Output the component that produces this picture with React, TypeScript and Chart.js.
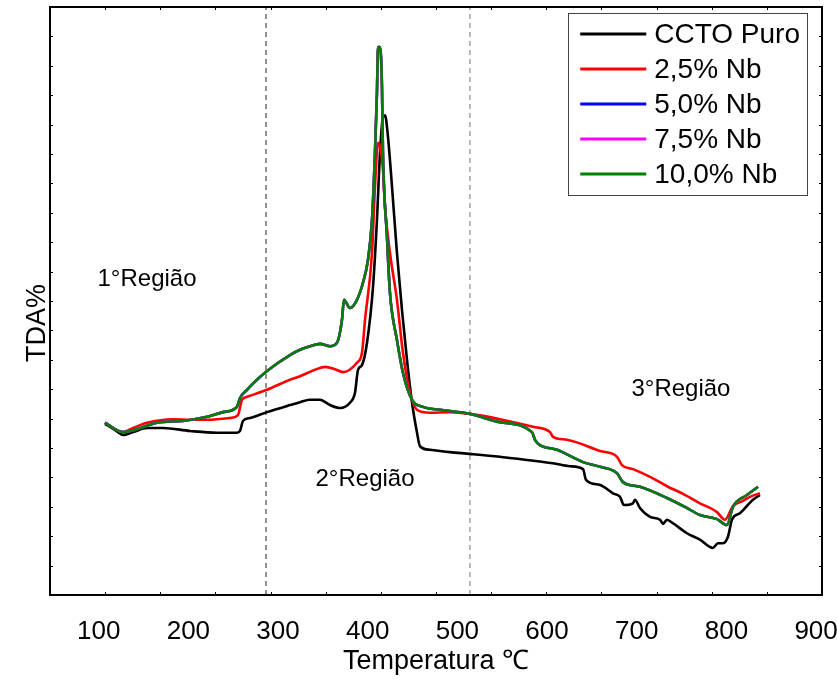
import React, { useEffect, useRef } from "react";
import { Chart, registerables } from "chart.js";

Chart.register(...registerables);

const FONT = '"Liberation Sans", Arial, Helvetica, sans-serif';

// ---- Series (temperature °C, TDA in arbitrary units 0..100) ----
const SERIES_NAMES = ["CCTO Puro", "2,5% Nb", "5,0% Nb", "7,5% Nb", "10,0% Nb"];
const SERIES_COLORS = ["#000000", "#ff0000", "#0000ff", "#ff00ff", "#008000"];

const CCTO_T = [107.0, 112.6, 121.5, 127.1, 138.3, 153.9, 171.7, 201.8, 231.9, 254.2, 257.6, 260.9, 268.7, 287.7, 313.3, 324.5, 335.6, 346.8, 357.9, 369.1, 380.2, 385.8, 389.2, 393.6, 399.2, 405.9, 410.3, 413.7, 417.0, 419.3, 422.6, 427.1, 432.6, 438.2, 443.8, 449.4, 455.0, 458.3, 469.4, 491.7, 514.0, 547.5, 606.6, 625.6, 640.1, 643.4, 659.0, 673.5, 681.3, 685.8, 695.8, 698.0, 703.6, 714.8, 725.9, 729.3, 733.7, 740.4, 756.0, 770.5, 785.0, 790.6, 796.2, 801.7, 806.2, 815.1, 829.6, 837.4];
const CCTO_V = [29.1, 28.6, 27.7, 27.2, 27.7, 28.4, 28.4, 27.9, 27.6, 27.6, 27.9, 29.6, 30.1, 31.1, 32.3, 32.8, 33.2, 33.2, 32.3, 31.8, 32.7, 34.4, 38.3, 39.1, 42.9, 52.4, 63.8, 75.2, 81.3, 81.6, 77.9, 69.4, 58.2, 48.5, 40.0, 32.7, 27.6, 25.3, 24.7, 24.3, 24.0, 23.5, 22.4, 21.9, 21.4, 19.6, 18.7, 17.3, 16.7, 15.3, 15.6, 16.2, 14.8, 13.3, 12.8, 12.1, 12.8, 12.2, 10.5, 9.4, 8.0, 8.8, 8.8, 9.9, 12.8, 13.9, 16.2, 17.0];

const NB25_T = [107.0, 116.0, 127.1, 138.3, 153.9, 182.9, 201.8, 220.8, 246.4, 255.3, 259.8, 265.4, 287.7, 313.3, 324.5, 341.2, 352.4, 363.5, 372.4, 388.0, 393.6, 397.0, 404.8, 408.1, 411.5, 413.7, 417.0, 419.3, 424.8, 432.6, 439.3, 447.1, 455.0, 469.4, 491.7, 514.0, 547.5, 584.3, 603.3, 606.6, 622.2, 659.0, 678.0, 683.5, 695.8, 714.8, 733.7, 751.6, 770.5, 789.5, 798.4, 807.3, 818.5, 826.3, 837.4];
const NB25_V = [29.3, 28.4, 27.7, 28.4, 29.3, 29.9, 29.8, 29.8, 30.1, 30.6, 33.2, 33.7, 34.9, 36.6, 37.2, 38.3, 38.8, 38.4, 37.9, 39.5, 41.2, 46.8, 58.2, 69.4, 76.9, 76.2, 72.3, 66.0, 58.2, 50.2, 41.2, 34.4, 31.5, 31.0, 31.1, 30.8, 29.9, 28.6, 27.7, 26.9, 26.4, 24.5, 23.5, 22.1, 21.4, 20.1, 18.5, 17.2, 15.6, 14.1, 12.8, 15.1, 16.0, 16.7, 17.3];

const NB100_T = [107.0, 127.1, 142.7, 165.0, 194.0, 220.8, 238.6, 254.2, 257.6, 265.4, 276.5, 287.7, 313.3, 324.5, 335.6, 346.8, 357.9, 365.7, 371.3, 373.5, 380.2, 388.0, 394.7, 400.3, 404.8, 408.1, 410.3, 411.5, 413.7, 415.9, 417.0, 421.5, 424.8, 432.6, 439.3, 449.4, 461.6, 480.6, 514.0, 547.5, 583.2, 586.5, 592.1, 611.1, 640.1, 659.0, 678.0, 684.7, 703.6, 733.7, 756.0, 770.5, 789.5, 800.6, 807.3, 822.9, 835.2];
const NB100_V = [29.3, 27.7, 28.2, 29.3, 29.6, 30.3, 31.1, 32.0, 33.5, 34.9, 36.6, 38.1, 40.8, 41.7, 42.3, 42.7, 42.3, 42.9, 46.8, 50.2, 48.8, 50.2, 53.1, 57.0, 63.8, 75.2, 85.4, 93.2, 93.2, 86.4, 75.2, 60.9, 51.4, 43.4, 37.8, 33.2, 32.0, 31.5, 30.8, 29.4, 27.7, 26.4, 25.5, 24.7, 22.6, 21.8, 20.7, 19.2, 18.4, 16.5, 14.8, 13.6, 12.9, 11.9, 15.0, 17.0, 18.4];

// 5,0% and 7,5% Nb lie underneath the 10,0% curve in the picture
const NB50_T = [...NB100_T];
const NB50_V = [...NB100_V];
const NB75_T = [...NB100_T];
const NB75_V = [...NB100_V];

const SERIES_T = [CCTO_T, NB25_T, NB50_T, NB75_T, NB100_T];
const SERIES_V = [CCTO_V, NB25_V, NB50_V, NB75_V, NB100_V];

// ---- Axes ----
const X_TICKS = [100, 200, 300, 400, 500, 600, 700, 800, 900];
const X_MIN = 45.7;
const X_MAX = 906.6;
const Y_MIN = 0;
const Y_MAX = 100;
const X_TITLE = "Temperatura ℃";
const Y_TITLE = "TDA%";

// ---- Region boundaries and labels ----
const REGION_BOUNDS = [286.6, 514.0];
const REGION_LABELS = ["1°Região", "2°Região", "3°Região"];
const REGION_LABEL_T = [153.9, 397.0, 749.3];
const REGION_LABEL_V = [53.6, 19.7, 34.9];

const framePlugin = {
  id: "frameAndLabels",
  afterDatasetsDraw(chart: any) {
    const { ctx, chartArea: a, scales } = chart;
    ctx.save();
    // small inward ticks
    ctx.strokeStyle = "#000";
    ctx.lineWidth = 1;
    const nx = 14, ny = 20, tl = 3;
    ctx.beginPath();
    for (let i = 1; i < nx; i++) {
      const x = Math.round(a.left + ((a.right - a.left) * i) / nx) + 0.5;
      ctx.moveTo(x, a.bottom); ctx.lineTo(x, a.bottom - tl);
      ctx.moveTo(x, a.top); ctx.lineTo(x, a.top + tl);
    }
    for (let i = 1; i < ny; i++) {
      const y = Math.round(a.top + ((a.bottom - a.top) * i) / ny) + 0.5;
      ctx.moveTo(a.left, y); ctx.lineTo(a.left + tl, y);
      ctx.moveTo(a.right, y); ctx.lineTo(a.right - tl, y);
    }
    ctx.stroke();
    // frame
    ctx.lineWidth = 2;
    ctx.strokeRect(a.left, a.top, a.right - a.left, a.bottom - a.top);
    // region labels
    ctx.fillStyle = "#000";
    ctx.font = `24px ${FONT}`;
    ctx.textAlign = "center";
    ctx.textBaseline = "middle";
    REGION_LABELS.forEach((txt, i) => {
      ctx.fillText(txt, scales.x.getPixelForValue(REGION_LABEL_T[i]), scales.y.getPixelForValue(REGION_LABEL_V[i]));
    });
    // y-axis title
    ctx.save();
    ctx.font = `27px ${FONT}`;
    ctx.translate(38, (a.top + a.bottom) / 2 + 22);
    ctx.rotate(-Math.PI / 2);
    ctx.fillText(Y_TITLE, 0, 0);
    ctx.restore();
    ctx.restore();
  },
  afterDraw(chart: any) {
    const { ctx, chartArea: a } = chart;
    const items = chart.data.datasets.filter((d: any) => d.inLegend);
    ctx.save();
    ctx.font = `28px ${FONT}`;
    const maxW = Math.max(...items.map((d: any) => ctx.measureText(d.label).width));
    const row = 35, padL = 12, lineLen = 66, gap = 8, padR = 7, padV = 3.5;
    const w = padL + lineLen + gap + maxW + padR;
    const h = padV * 2 + row * items.length;
    const right = a.right - 15;
    const top = a.top + 6;
    const left = right - w;
    ctx.fillStyle = "#fff";
    ctx.fillRect(left, top, w, h);
    ctx.strokeStyle = "#444";
    ctx.lineWidth = 1;
    ctx.strokeRect(Math.round(left) + 0.5, Math.round(top) + 0.5, Math.round(w), Math.round(h));
    ctx.textAlign = "left";
    ctx.textBaseline = "middle";
    items.forEach((d: any, i: number) => {
      const cy = top + padV + row * i + row / 2;
      ctx.strokeStyle = d.borderColor;
      ctx.lineWidth = 3;
      ctx.beginPath();
      ctx.moveTo(left + padL, cy);
      ctx.lineTo(left + padL + lineLen, cy);
      ctx.stroke();
      ctx.fillStyle = "#000";
      ctx.fillText(d.label, left + padL + lineLen + gap, cy + 1);
    });
    ctx.restore();
  },
};

const DRAW_ORDER = [4, 3, 2, 1, 0];

export default function App() {
  const ref = useRef<HTMLCanvasElement | null>(null);
  useEffect(() => {
    if (!ref.current) return;
    const seriesSets = SERIES_NAMES.map((name, i) => ({
      label: name,
      inLegend: true,
      data: SERIES_T[i].map((t, j) => ({ x: t, y: SERIES_V[i][j] })),
      borderColor: SERIES_COLORS[i],
      backgroundColor: SERIES_COLORS[i],
      borderWidth: 2.6,
      pointRadius: 0,
      cubicInterpolationMode: "monotone" as const,
      order: DRAW_ORDER[i],
    }));
    const boundSets = REGION_BOUNDS.map((t, i) => ({
      label: "bound" + i,
      inLegend: false,
      data: [{ x: t, y: Y_MIN }, { x: t, y: Y_MAX }],
      borderColor: i === 0 ? "#222" : "#777",
      borderWidth: 1,
      borderDash: [5, 4],
      pointRadius: 0,
      order: 10,
    }));
    const chart = new Chart(ref.current, {
      type: "line",
      data: { datasets: [...seriesSets, ...boundSets] as any },
      options: {
        animation: false,
        responsive: true,
        maintainAspectRatio: false,
        layout: { padding: { top: 7, right: 15, left: 0, bottom: 0 } },
        plugins: { legend: { display: false }, tooltip: { enabled: false } },
        scales: {
          x: {
            type: "linear",
            min: X_MIN,
            max: X_MAX,
            grid: { display: false, drawTicks: false },
            border: { display: false },
            afterBuildTicks: (axis: any) => {
              axis.ticks = X_TICKS.map((v) => ({ value: v }));
            },
            afterFit: (axis: any) => {
              axis.height = 89;
              axis.paddingLeft = 0;
              axis.paddingRight = 0;
            },
            ticks: {
              color: "#000",
              padding: 21,
              maxRotation: 0,
              autoSkip: false,
              font: { family: FONT, size: 26 },
              callback: (v: any) => String(v),
            },
            title: {
              display: true,
              text: X_TITLE,
              color: "#000",
              font: { family: FONT, size: 27 },
              padding: { top: 0, bottom: 6 },
            },
          },
          y: {
            type: "linear",
            min: Y_MIN,
            max: Y_MAX,
            grid: { display: false, drawTicks: false },
            border: { display: false },
            ticks: { display: false },
            afterFit: (axis: any) => {
              axis.width = 50;
              axis.paddingTop = 0;
              axis.paddingBottom = 0;
            },
            title: { display: false },
          },
        },
      },
      plugins: [framePlugin],
    });
    return () => chart.destroy();
  }, []);
  return (
    <div style={{ position: "fixed", left: 0, top: 0, width: 837, height: 684, background: "#fff" }}>
      <canvas ref={ref} />
    </div>
  );
}
